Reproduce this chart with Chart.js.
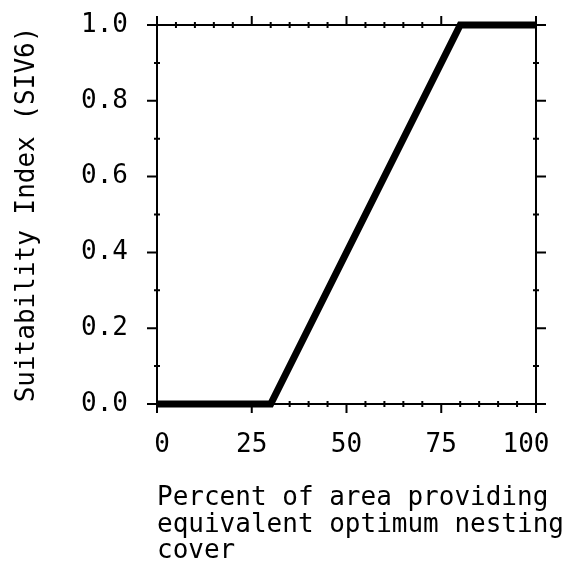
<!DOCTYPE html>
<html>
<head>
<meta charset="utf-8">
<script src="https://cdn.jsdelivr.net/npm/chart.js@4/dist/chart.umd.min.js"></script>
<style>
html,body{margin:0;padding:0;background:#fff;}
#wrap{width:566px;height:567px;}
</style>
</head>
<body>
<div id="wrap"><canvas id="c" width="566" height="567"></canvas></div>
<script>
const coverPercent = [0, 30, 80, 100];
const suitability = [0, 0, 1, 1];
const xTicks = [0, 25, 50, 75, 100];
const yTicks = [0.0, 0.2, 0.4, 0.6, 0.8, 1.0];
const xTitle = ["Percent of area providing", "equivalent optimum nesting", "cover"];
const yTitle = "Suitability Index (SIV6)";

const FONT = "'DejaVu Sans Mono', monospace";

function noPad(s) { s.paddingTop = 0; s.paddingBottom = 0; s.paddingLeft = 0; s.paddingRight = 0; }

const frameTicks = {
  id: 'frameTicks',
  afterDraw(chart) {
    const {ctx, chartArea: a, scales: {x, y}} = chart;
    ctx.save();
    ctx.strokeStyle = '#000';
    ctx.lineWidth = 2;
    ctx.beginPath();
    ctx.moveTo(a.left, a.top); ctx.lineTo(a.right, a.top);
    ctx.moveTo(a.right, a.top); ctx.lineTo(a.right, a.bottom);
    ctx.stroke();
    ctx.beginPath();
    for (let v = 0; v <= 100; v += 5) {
      const px = x.getPixelForValue(v);
      const major = v % 25 === 0;
      if (major) {
        ctx.moveTo(px, a.bottom); ctx.lineTo(px, a.bottom + 9);
        ctx.moveTo(px, a.top); ctx.lineTo(px, a.top - 9);
      } else {
        ctx.moveTo(px, a.bottom - 3); ctx.lineTo(px, a.bottom + 3);
        ctx.moveTo(px, a.top - 3); ctx.lineTo(px, a.top + 3);
      }
    }
    for (let i = 0; i <= 10; i++) {
      const py = y.getPixelForValue(i / 10);
      const major = i % 2 === 0;
      if (major) {
        ctx.moveTo(a.left, py); ctx.lineTo(a.left - 10, py);
        ctx.moveTo(a.right, py); ctx.lineTo(a.right + 10, py);
      } else {
        ctx.moveTo(a.left - 3, py); ctx.lineTo(a.left + 3, py);
        ctx.moveTo(a.right - 3, py); ctx.lineTo(a.right + 3, py);
      }
    }
    ctx.stroke();
    ctx.fillStyle = '#000';
    ctx.font = "26px " + FONT;
    // x tick labels (end labels nudged inward as in the original)
    ctx.textAlign = 'center';
    ctx.textBaseline = 'alphabetic';
    xTicks.forEach((v, i) => {
      let px = x.getPixelForValue(v);
      if (i === 0) px += 5;
      if (i === xTicks.length - 1) px -= 10;
      ctx.fillText(String(v), px, a.bottom + 48);
    });
    // x-axis title
    ctx.textAlign = 'left';
    const baselines = [101, 128, 154];
    xTitle.forEach((line, i) => ctx.fillText(line, a.left, a.bottom + baselines[i]));
    ctx.restore();
  }
};

new Chart(document.getElementById('c'), {
  type: 'line',
  data: {
    datasets: [{
      data: coverPercent.map((v, i) => ({x: v, y: suitability[i]})),
      borderColor: '#000',
      borderWidth: 7,
      pointRadius: 0,
      tension: 0,
      fill: false,
      clip: false
    }]
  },
  options: {
    responsive: false,
    animation: false,
    events: [],
    layout: {autoPadding: false, padding: {top: 25, right: 30, left: 0, bottom: 0}},
    plugins: {legend: {display: false}, tooltip: {enabled: false}},
    scales: {
      x: {
        type: 'linear',
        min: 0, max: 100,
        afterFit(s) { s.height = 163; noPad(s); },
        afterBuildTicks(s) { s.ticks = xTicks.map(v => ({value: v})); },
        grid: {display: true, drawOnChartArea: false, drawTicks: false},
        border: {display: true, color: '#000', width: 2},
        ticks: {display: false},
        title: {display: false}
      },
      y: {
        type: 'linear',
        min: 0, max: 1,
        afterFit(s) { s.width = 157; noPad(s); },
        afterBuildTicks(s) { s.ticks = yTicks.map(v => ({value: v})); },
        grid: {display: true, drawOnChartArea: false, drawTicks: false},
        border: {display: true, color: '#000', width: 2},
        ticks: {color: '#000', font: {family: FONT, size: 26}, padding: 29,
          callback: v => v.toFixed(1)},
        title: {display: true, text: yTitle, color: '#000',
          font: {family: FONT, size: 26, lineHeight: 1}, padding: {top: 14, bottom: 0}}
      }
    }
  },
  plugins: [frameTicks]
});
</script>
</body>
</html>
